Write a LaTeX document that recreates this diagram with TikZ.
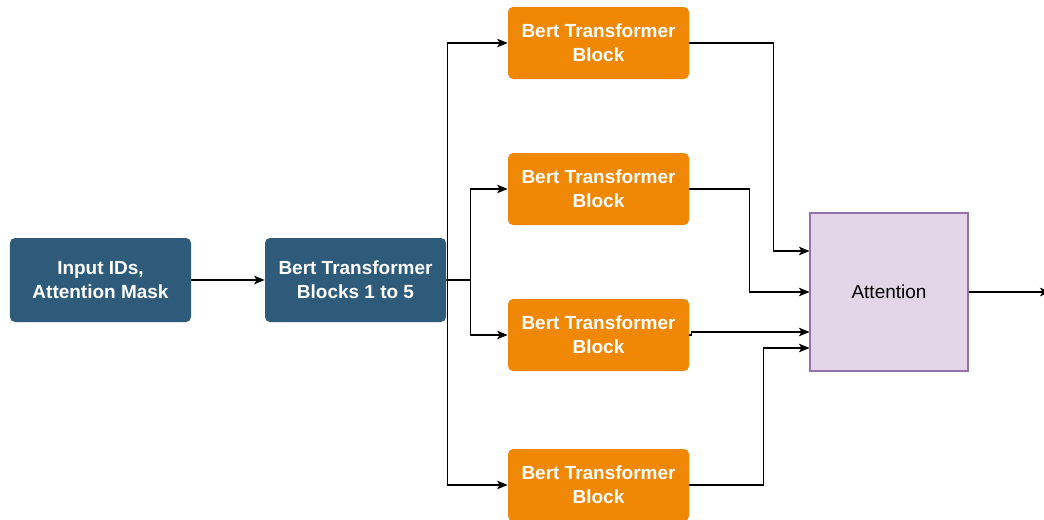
\documentclass[tikz,border=0pt]{standalone}
\usepackage{fontspec}
\setmainfont{Liberation Sans}
\usepackage{xcolor}
\usetikzlibrary{arrows, arrows.meta, shapes, positioning, calc}

\definecolor{bertblue}{HTML}{2E5B7A}
\definecolor{bertorange}{HTML}{F08705}
\definecolor{attfill}{HTML}{E1D5E7}
\definecolor{attdraw}{HTML}{9673A6}

\begin{document}
\begin{tikzpicture}[font=\fontsize{10.8}{13.6}\selectfont,
  bluebox/.style={rectangle, rounded corners=1mm, fill=bertblue, text=white,
    font=\fontsize{10.8}{13.6}\selectfont\bfseries, align=center,
    minimum width=3.62cm, minimum height=1.68cm},
  orangebox/.style={rectangle, rounded corners=1mm, fill=bertorange, text=white,
    font=\fontsize{10.8}{13.6}\selectfont\bfseries, align=center,
    minimum width=3.62cm, minimum height=1.44cm},
  link/.style={line width=0.6pt, -{Stealth[length=2.1mm, width=1.7mm, inset=0.5mm]}}]
\useasboundingbox (0,0) rectangle (20.88,10.38);

% 输入与前 5 层
\node[bluebox] (input) at (2.01, 4.78) {Input IDs,\\Attention Mask};
\node[bluebox] (blocks15) at (7.11, 4.78) {Bert Transformer\\Blocks 1 to 5};

% 四个分支
\node[orangebox] (b1) at (11.97, 9.52) {Bert Transformer\\Block};
\node[orangebox] (b2) at (11.97, 6.60) {Bert Transformer\\Block};
\node[orangebox] (b3) at (11.97, 3.68) {Bert Transformer\\Block};
\node[orangebox] (b4) at (11.97, 0.68) {Bert Transformer\\Block};

% 注意力融合
\node[rectangle, fill=attfill, draw=attdraw, line width=0.6pt,
  minimum width=3.16cm, minimum height=3.16cm] (att) at (17.78, 4.54) {Attention};
\coordinate (in1) at ([yshift=8.2mm]att.west);
\coordinate (in2) at (att.west);
\coordinate (in3) at ([yshift=-8.0mm]att.west);
\coordinate (in4) at ([yshift=-11.2mm]att.west);
\coordinate (out) at ([xshift=1.64cm]att.east);

\draw[link] (input) -- (blocks15);

\draw[link] (blocks15.east) -- ++(0.02,0) |- (b1);
\draw[link] (blocks15.east) -- ++(0.48,0) |- (b2);
\draw[link] (blocks15.east) -- ++(0.48,0) |- (b3);
\draw[link] (blocks15.east) -- ++(0.02,0) |- (b4);

\draw[link] (b1.east) -- ++(1.68,0) |- (in1);
\draw[link] (b2.east) -- ++(1.20,0) |- (in2);
\draw[link] (b3.east) -- ++(0.04,0) |- (in3);
\draw[link] (b4.east) -- ++(1.48,0) |- (in4);

\draw[link] (att.east) -- (out);
\end{tikzpicture}
\end{document}
